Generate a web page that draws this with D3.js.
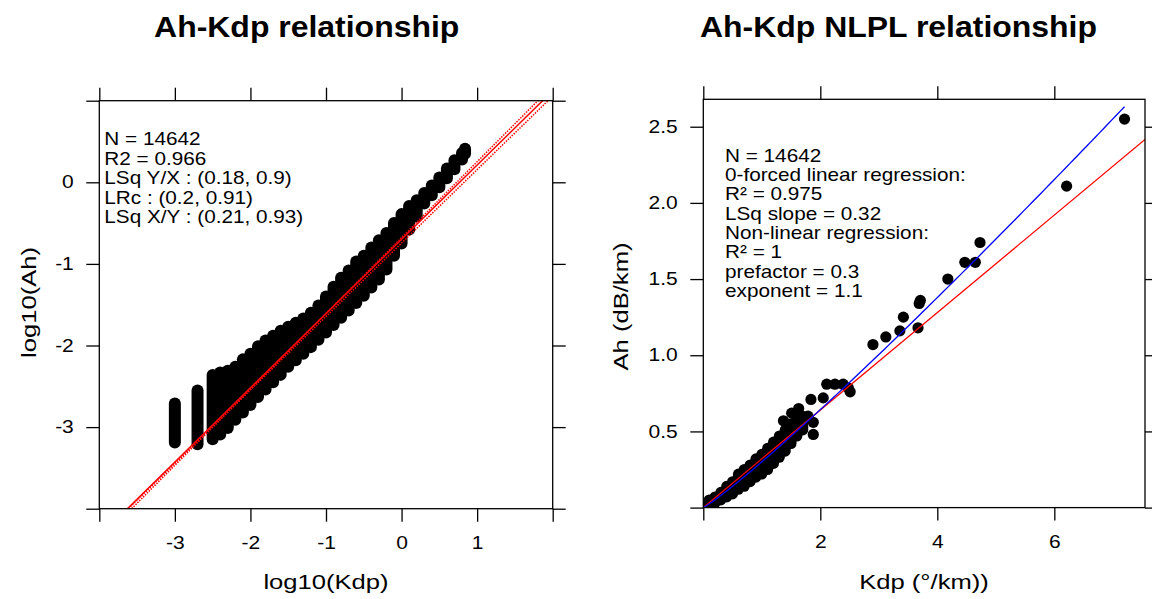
<!DOCTYPE html>
<html><head><meta charset="utf-8">
<script src="https://cdn.jsdelivr.net/npm/d3@7"></script>
<style>body{margin:0;background:#fff} svg{display:block} text{font-family:"Liberation Sans",Arial,Helvetica,sans-serif}</style>
</head><body><svg id="c" width="1152" height="599"></svg>
<script>
// ---------- Left panel data (log10 space) ----------
// Dense point cloud read as columns: log10(Kdp) and the lowest / highest log10(Ah) in that column
const leftKdp    = [-3.0,-2.7,-2.5,-2.4,-2.3,-2.2,-2.1,-2.0,-1.9,-1.8,-1.7,-1.6,-1.5,-1.4,-1.3,-1.2,-1.1,-1.0,-0.9,-0.8,-0.7,-0.6,-0.5,-0.4,-0.3,-0.2,-0.1,0.0,0.1,0.2,0.3,0.4,0.5,0.6,0.7,0.8,0.84];
const leftAhLow  = [-3.19,-3.21,-3.15,-3.09,-3.01,-2.91,-2.82,-2.73,-2.63,-2.54,-2.45,-2.36,-2.26,-2.18,-2.10,-2.02,-1.93,-1.84,-1.75,-1.66,-1.57,-1.48,-1.39,-1.29,-1.19,-1.07,-0.90,-0.75,-0.58,-0.42,-0.26,-0.16,-0.06,0.05,0.16,0.28,0.35];
const leftAhHigh = [-2.71,-2.55,-2.36,-2.33,-2.31,-2.26,-2.17,-2.10,-2.01,-1.94,-1.88,-1.82,-1.77,-1.72,-1.67,-1.60,-1.51,-1.40,-1.28,-1.17,-1.08,-0.97,-0.90,-0.80,-0.71,-0.62,-0.50,-0.39,-0.29,-0.22,-0.13,-0.04,0.06,0.17,0.27,0.36,0.41];
const leftXTicks = [-4,-3,-2,-1,0,1,2];
const leftXLabels = [-3,-2,-1,0,1];
const leftYTicks = [-4,-3,-2,-1,0,1];
const leftYLabels = [-3,-2,-1,0];
// fits: [prefactor, exponent]
const fitLSqYX = [0.18, 0.9];
const fitLRc   = [0.2, 0.91];
const fitLSqXY = [0.21, 0.93];
const leftText = ["N = 14642","R2 = 0.966","LSq Y/X : (0.18, 0.9)","LRc : (0.2, 0.91)","LSq X/Y : (0.21, 0.93)"];

// ---------- Right panel data (linear space) ----------
const rightColKdp  = [0.03,0.1,0.2,0.3,0.4,0.5,0.6,0.7,0.8,0.9,1.0,1.1,1.2,1.3,1.4,1.5,1.6,1.7];
const rightColLow  = [0.00,0.01,0.03,0.05,0.07,0.09,0.12,0.14,0.17,0.20,0.22,0.25,0.29,0.33,0.37,0.42,0.47,0.51];
const rightColHigh = [0.02,0.05,0.07,0.10,0.14,0.17,0.22,0.25,0.28,0.32,0.35,0.39,0.43,0.47,0.51,0.55,0.58,0.60];
const rightPtKdp = [7.20,6.21,4.73,4.65,4.47,4.18,3.71,3.69,3.42,3.36,3.67,3.12,2.90,2.51,2.11,2.25,2.39,2.48,2.05,1.84,1.63,1.51,1.79,1.88,1.88,1.37,1.72];
const rightPtAh  = [2.55,2.11,1.74,1.61,1.61,1.50,1.36,1.34,1.25,1.16,1.18,1.12,1.07,0.76,0.81,0.81,0.81,0.785,0.72,0.71,0.65,0.62,0.60,0.56,0.48,0.57,0.58];
const rightXTicks = [0,2,4,6];
const rightXLabels = [2,4,6];
const rightYTicks = [0,0.5,1.0,1.5,2.0,2.5];
const rightYLabels = [0.5,1.0,1.5,2.0,2.5];
const linSlope = 0.32;
const nlplPrefactor = 0.3, nlplExponent = 1.1;
const rightText = ["N = 14642","0-forced linear regression:","R\u00B2 = 0.975","LSq slope = 0.32","Non-linear regression:","R\u00B2 = 1","prefactor = 0.3","exponent = 1.1"];

const svg = d3.select("#c");
const FONT = '"Liberation Sans",Arial,Helvetica,sans-serif';
const TICK_SX = 1.2;

function label(g, x, y, str, size, sx, opts = {}) {
  const rot = opts.rotate ? ` rotate(${opts.rotate})` : "";
  return g.append("text")
    .attr("transform", `translate(${x},${y})${rot} scale(${sx},1)`)
    .attr("text-anchor", opts.anchor || "start")
    .attr("font-size", size)
    .attr("font-weight", opts.weight || null)
    .attr("fill", "#000")
    .text(str);
}

function axes(g, x, y, xTicks, xLabels, xFmt, yTicks, yLabels, yFmt) {
  const [x0, x1] = x.range(); const [yb, yt] = y.range();
  const style = s => {
    s.select(".domain").remove();
    s.attr("font-family", FONT).attr("font-size", 17.5);
    s.selectAll("line").attr("stroke", "#000").attr("stroke-width", 1.3);
    s.selectAll("text").attr("fill", "#000");
  };
  g.append("g").attr("transform", `translate(0,${yb})`)
    .call(d3.axisBottom(x).tickValues(xTicks).tickSize(13).tickSizeOuter(0).tickPadding(14.5)
      .tickFormat(d => xLabels.includes(d) ? xFmt(d) : "")).call(style)
    .call(s => s.selectAll("text").attr("transform", `scale(${TICK_SX},1)`));
  g.append("g").attr("transform", `translate(0,${yt})`)
    .call(d3.axisTop(x).tickValues(xTicks).tickSize(13).tickSizeOuter(0).tickFormat(() => "")).call(style);
  g.append("g").attr("transform", `translate(${x0},0)`)
    .call(d3.axisLeft(y).tickValues(yTicks).tickSize(13).tickSizeOuter(0).tickPadding(12.5)
      .tickFormat(d => yLabels.includes(d) ? yFmt(d) : "")).call(style)
    .call(s => s.selectAll("text").attr("x", -(13 + 12.5) / TICK_SX).attr("transform", `scale(${TICK_SX},1)`));
  g.append("g").attr("transform", `translate(${x1},0)`)
    .call(d3.axisRight(y).tickValues(yTicks).tickSize(13).tickSizeOuter(0).tickFormat(() => "")).call(style);
  g.append("rect").attr("x", x0).attr("y", yt).attr("width", x1 - x0).attr("height", yb - yt)
    .attr("fill", "none").attr("stroke", "#000").attr("stroke-width", 1.3);
}

function clip(id, x, y) {
  const [x0, x1] = x.range(); const [yb, yt] = y.range();
  svg.append("clipPath").attr("id", id).append("rect")
    .attr("x", x0).attr("y", yt).attr("width", x1 - x0).attr("height", yb - yt);
}

// ================= LEFT PANEL =================
{
  const x = d3.scaleLinear([-4, 2], [99.3, 552.7]);
  const y = d3.scaleLinear([-4, 1], [508.7, 100.7]);
  clip("clipL", x, y);
  const g = svg.append("g");
  const plot = g.append("g").attr("clip-path", "url(#clipL)");
  const cols = leftKdp.map((k, i) => ({k, lo: leftAhLow[i], hi: leftAhHigh[i]}));
  plot.selectAll("line.col").data(cols).join("line").attr("class", "col")
    .attr("x1", d => x(d.k)).attr("x2", d => x(d.k))
    .attr("y1", d => y(d.lo)).attr("y2", d => y(d.hi))
    .attr("stroke", "#000").attr("stroke-width", 12).attr("stroke-linecap", "round");
  const fits = [{f: fitLSqYX, dash: "1.5,1.2", w: 1.5}, {f: fitLSqXY, dash: "1.5,1.2", w: 1.5}, {f: fitLRc, dash: null, w: 1.5}];
  const xd = x.domain();
  plot.selectAll("line.fit").data(fits).join("line").attr("class", "fit")
    .attr("x1", x(xd[0])).attr("x2", x(xd[1]))
    .attr("y1", d => y(Math.log10(d.f[0]) + d.f[1] * xd[0]))
    .attr("y2", d => y(Math.log10(d.f[0]) + d.f[1] * xd[1]))
    .attr("stroke", "#ff0000").attr("stroke-width", d => d.w)
    .attr("stroke-dasharray", d => d.dash);
  axes(g, x, y, leftXTicks, leftXLabels, d => String(d), leftYTicks, leftYLabels, d => String(d));
  leftText.forEach((t, i) => label(g, 104.3, 145 + i * 19.5, t, 18.6, 1.115));
  label(g, 326, 588.5, "log10(Kdp)", 21, 1.22, {anchor: "middle"});
  label(g, 36, 302.5, "log10(Ah)", 21, 1.22, {anchor: "middle", rotate: -90});
  label(g, 306.7, 36.7, "Ah-Kdp relationship", 30, 1.065, {anchor: "middle", weight: "bold"});
}

// ================= RIGHT PANEL =================
{
  const x = d3.scaleLinear([0, 7.55], [703.3, 1145]);
  const y = d3.scaleLinear([0, 2.68], [507.6, 99.3]);
  clip("clipR", x, y);
  const g = svg.append("g");
  const plot = g.append("g").attr("clip-path", "url(#clipR)");
  const cols = rightColKdp.map((k, i) => ({k, lo: rightColLow[i], hi: rightColHigh[i]}));
  plot.selectAll("line.col").data(cols).join("line").attr("class", "col")
    .attr("x1", d => x(d.k)).attr("x2", d => x(d.k))
    .attr("y1", d => y(d.lo)).attr("y2", d => y(d.hi))
    .attr("stroke", "#000").attr("stroke-width", 11).attr("stroke-linecap", "round");
  const pts = rightPtKdp.map((k, i) => ({k, a: rightPtAh[i]}));
  plot.selectAll("circle").data(pts).join("circle")
    .attr("cx", d => x(d.k)).attr("cy", d => y(d.a)).attr("r", 5.6).attr("fill", "#000");
  const xd = x.domain();
  plot.append("line").attr("x1", x(0)).attr("y1", y(0)).attr("x2", x(xd[1])).attr("y2", y(linSlope * xd[1]))
    .attr("stroke", "#ff0000").attr("stroke-width", 1.3);
  const kmax = d3.max(rightPtKdp);
  const curve = d3.range(0, 101).map(i => i / 100 * kmax).map(k => [k, nlplPrefactor * Math.pow(k, nlplExponent)]);
  plot.append("path").datum(curve)
    .attr("d", d3.line().x(d => x(d[0])).y(d => y(d[1])))
    .attr("fill", "none").attr("stroke", "#0000ff").attr("stroke-width", 1.3);
  axes(g, x, y, rightXTicks, rightXLabels, d => String(d), rightYTicks, rightYLabels, d3.format(".1f"));
  rightText.forEach((t, i) => label(g, 725, 161.7 + i * 19.3, t, 18.6, 1.115));
  label(g, 924, 588.5, "Kdp (\u00B0/km))", 21, 1.22, {anchor: "middle"});
  label(g, 628, 306.5, "Ah (dB/km)", 21, 1.22, {anchor: "middle", rotate: -90});
  label(g, 898.5, 36.7, "Ah-Kdp NLPL relationship", 30, 1.065, {anchor: "middle", weight: "bold"});
}
</script></body></html>
